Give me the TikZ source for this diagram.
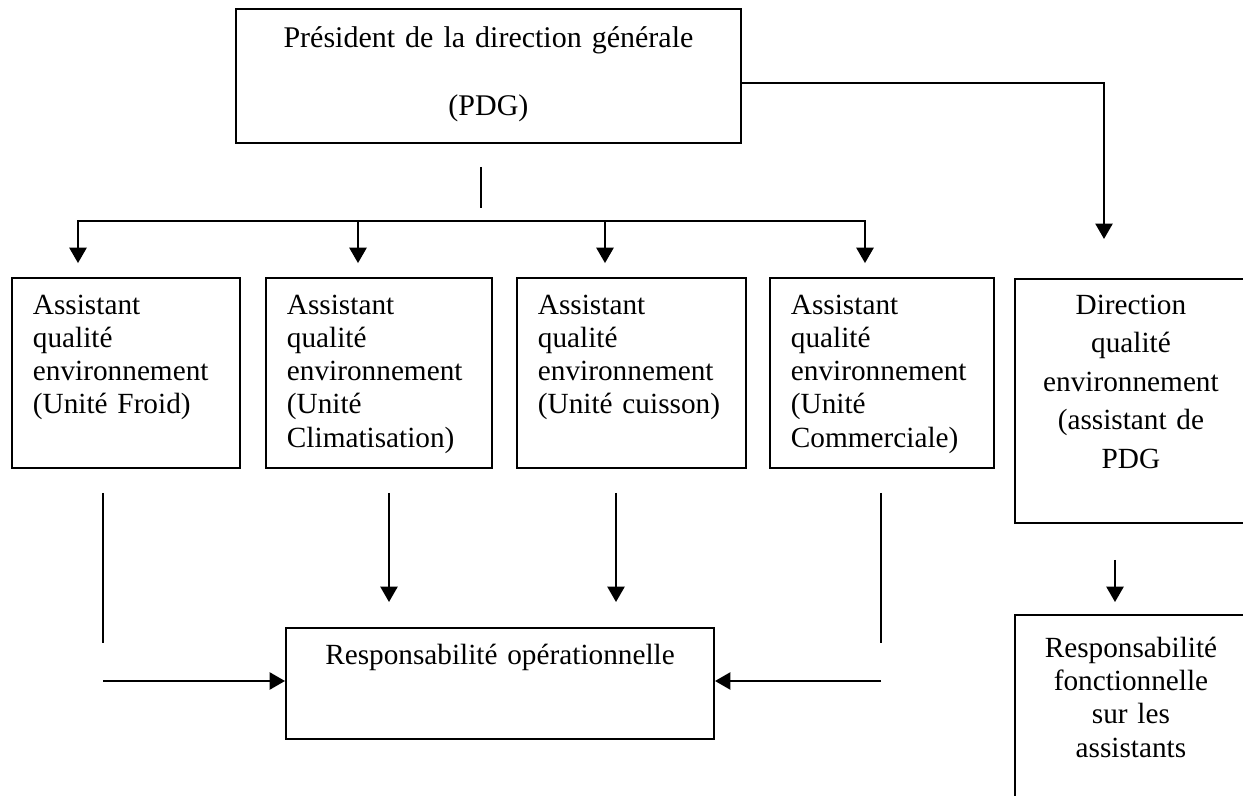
\documentclass[tikz,border=0pt]{standalone}
\usepackage{fontspec}
\setmainfont{Liberation Serif}
\usetikzlibrary{arrows.meta}

\tikzset{
  boite/.style={draw, line width=0.8pt, inner xsep=8.6pt, inner ysep=0pt,
    anchor=north west, font=\fontsize{12}{13.65}\selectfont},
  trait/.style={line width=0.6pt},
  bus/.style={line width=0.9pt, line cap=rect},
  fleche/.style={line width=0.9pt, -{Triangle[width=7pt,length=6.3pt]}},
}

\begin{document}
\begin{tikzpicture}[x=0.41pt,y=-0.41pt]

  \useasboundingbox (0,0) rectangle (1243,796);

  \node[boite, align=center, text width=189.85pt, text height=15.8pt, text depth=39.2pt,
    font=\fontsize{12.3}{27.9}\selectfont] (pdg) at (235,8)
    {Président de la direction générale\\(PDG)};

  \node[boite, align=left, text width=76.3pt, text height=14.8pt, text depth=63.1pt] (froid) at (11,277)
    {Assistant\\qualité\\environnement\\(Unité Froid)};
  \node[boite, align=left, text width=75.5pt, text height=14.8pt, text depth=63.1pt] (clim) at (265,277)
    {Assistant\\qualité\\environnement\\(Unité\\Climatisation)};
  \node[boite, align=left, text width=76.7pt, text height=14.8pt, text depth=63.1pt] (cuisson) at (516,277)
    {Assistant\\qualité\\environnement\\(Unité cuisson)};
  \node[boite, align=left, text width=74.6pt, text height=14.8pt, text depth=63.1pt] (comm) at (769,277)
    {Assistant\\qualité\\environnement\\(Unité\\Commerciale)};
  \node[boite, align=center, text width=77.9pt, text height=14.4pt, text depth=85.7pt,
    font=\fontsize{12}{15.8}\selectfont] (dqe) at (1014,278)
    {Direction\\qualité\\environnement\\(assistant de\\PDG};

  \node[boite, align=center, text width=158.3pt, text height=15pt, text depth=30.5pt] (respop) at (285,627)
    {Responsabilité opérationnelle};
  \node[boite, align=center, text width=77.9pt, text height=17.4pt, text depth=71pt] (respfonc) at (1014,614)
    {Responsabilité\\fonctionnelle\\sur les\\assistants};

  \coordinate (stubh) at (481,167);
  \coordinate (stubb) at (481,208);
  \coordinate (busg) at (78,221);
  \coordinate (bus2) at (358,221);
  \coordinate (bus3) at (605,221);
  \coordinate (busd) at (865,221);
  \coordinate (coin) at (1104,83);

  \draw[trait] (stubh) -- (stubb);
  \draw[bus] (busg) -- (busd);
  \foreach \b/\n in {busg/froid, bus2/clim, bus3/cuisson, busd/comm}
    \draw[fleche, shorten >=5.7pt] (\b) -- (\b |- \n.north);
  \draw[fleche, shorten >=16pt] (pdg.east |- coin) -- (coin) -- (coin |- dqe.north);

  \coordinate (g1) at (103,493);
  \coordinate (g2) at (103,643);
  \coordinate (g3) at (103,681);
  \coordinate (d1) at (881,493);
  \coordinate (d2) at (881,643);
  \coordinate (d3) at (881,681);
  \coordinate (m2) at (389,493);
  \coordinate (m3) at (616,493);
  \coordinate (f1) at (1115,560);

  \draw[trait] (g1) -- (g2);
  \draw[trait] (d1) -- (d2);
  \draw[fleche] (g3) -- (g3 -| respop.west);
  \draw[fleche] (d3) -- (d3 -| respop.east);
  \draw[fleche, shorten >=10.25pt] (m2) -- (m2 |- respop.north);
  \draw[fleche, shorten >=10.25pt] (m3) -- (m3 |- respop.north);
  \draw[fleche, shorten >=4.9pt] (f1) -- (f1 |- respfonc.north);

\end{tikzpicture}
\end{document}
